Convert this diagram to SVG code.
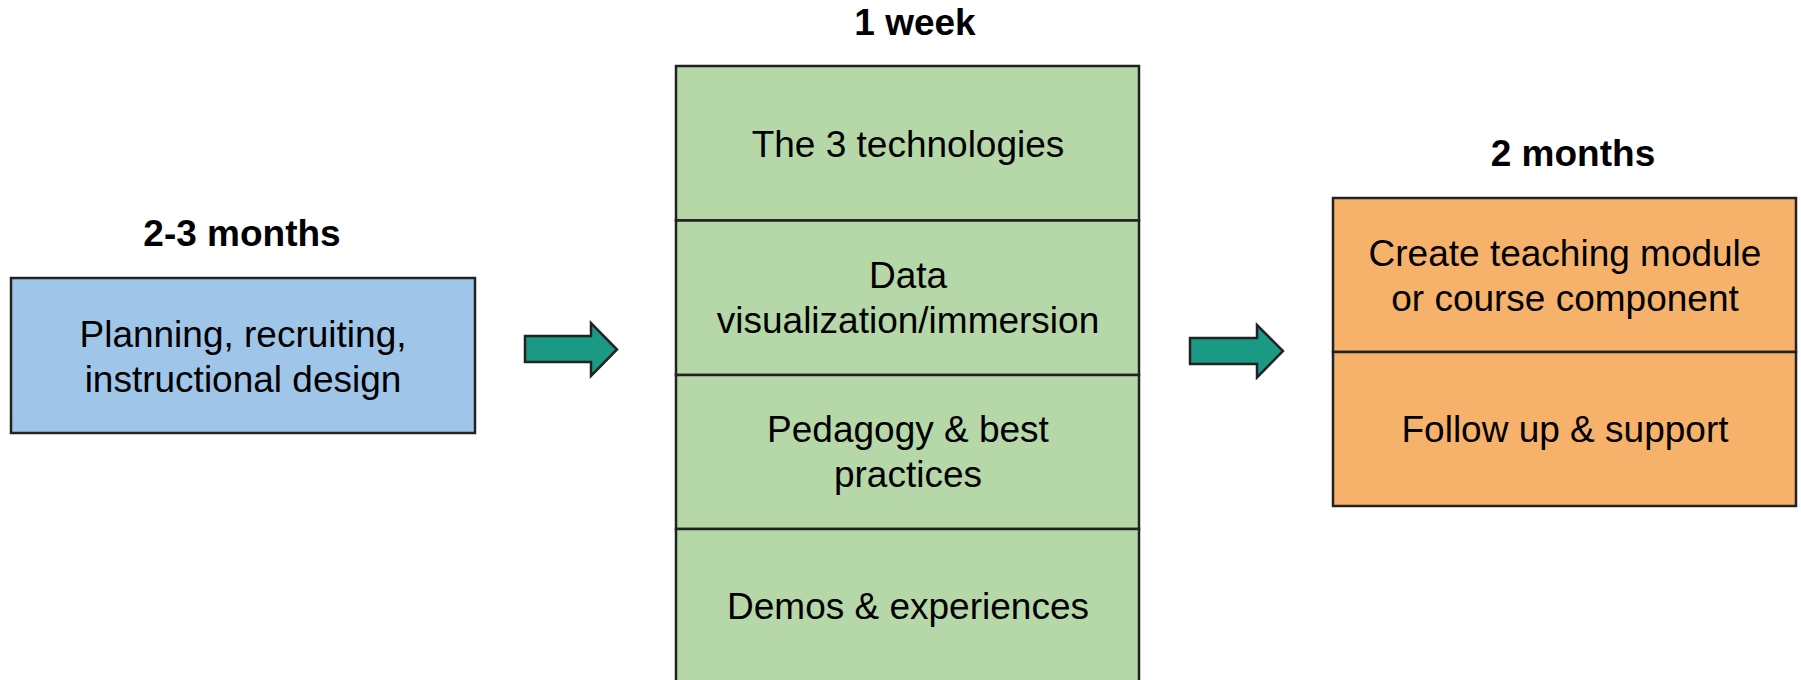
<svg xmlns="http://www.w3.org/2000/svg" width="1801" height="680" viewBox="0 0 1801 680">
<style>
.box{stroke:#222;stroke-width:2.5}
.blue{fill:#9fc5e8}
.green{fill:#b6d7a8}
.orange{fill:#f6b26b}
.t{font-family:"Liberation Sans",Arial,sans-serif;font-size:37px;fill:#000;text-anchor:middle}
.h{font-family:"Liberation Sans",Arial,sans-serif;font-size:37px;font-weight:bold;fill:#000;text-anchor:middle}
.arrow{fill:#1a9985;stroke:#222;stroke-width:2.5;stroke-linejoin:miter}
</style>
<rect width="1801" height="680" fill="#fff"/>
<g id="phase1">
<text class="h" x="242" y="246">2-3 months</text>
<rect class="box blue" x="11" y="278" width="464" height="155"/>
<text class="t" x="243" y="347">Planning, recruiting,</text>
<text class="t" x="243" y="392">instructional design</text>
</g>
<g id="phase2">
<text class="h" x="915" y="35">1 week</text>
<g id="seg-tech">
<rect class="box green" x="676" y="66" width="463" height="154.5"/>
<text class="t" x="908" y="157">The 3 technologies</text>
</g>
<g id="seg-data">
<rect class="box green" x="676" y="220.5" width="463" height="154.5"/>
<text class="t" x="908" y="288">Data</text>
<text class="t" x="908" y="333">visualization/immersion</text>
</g>
<g id="seg-pedagogy">
<rect class="box green" x="676" y="375" width="463" height="154"/>
<text class="t" x="908" y="442">Pedagogy &amp; best</text>
<text class="t" x="908" y="487">practices</text>
</g>
<g id="seg-demos">
<rect class="box green" x="676" y="529" width="463" height="160"/>
<text class="t" x="908" y="619">Demos &amp; experiences</text>
</g>
</g>
<g id="phase3">
<text class="h" x="1573" y="166">2 months</text>
<g id="seg-create">
<rect class="box orange" x="1333" y="198" width="463" height="154"/>
<text class="t" x="1565" y="266">Create teaching module</text>
<text class="t" x="1565" y="311">or course component</text>
</g>
<g id="seg-follow">
<rect class="box orange" x="1333" y="352" width="463" height="154"/>
<text class="t" x="1565" y="442">Follow up &amp; support</text>
</g>
</g>
<g id="connectors">
<path class="arrow" d="M525,336 H591 V323 L617,349.5 L591,376 V362 H525 Z"/>
<path class="arrow" d="M1190,338 H1257 V325 L1283,351 L1257,377.5 V364 H1190 Z"/>
</g>
</svg>
